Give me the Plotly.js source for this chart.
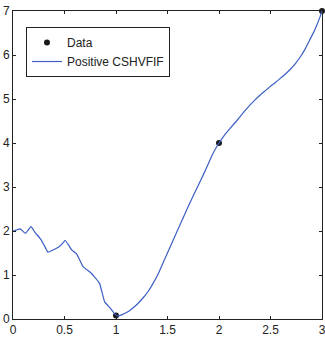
<!DOCTYPE html>
<html>
<head>
<meta charset="utf-8">
<script src="https://cdn.plot.ly/plotly-3.0.1.min.js"></script>
<style>html,body{margin:0;padding:0;background:#fff;}#chart{width:325px;height:337px;}</style>
</head>
<body>
<div id="chart"></div>
<script>
const dataX = [1, 2, 3];
const dataY = [0.08, 4, 7];
const curveX = [0, 0.03, 0.07, 0.12, 0.175, 0.21, 0.27, 0.31, 0.34, 0.39, 0.44, 0.49, 0.505, 0.55, 0.57, 0.62, 0.68, 0.76, 0.84, 0.89, 0.94, 0.99,
  1.02, 1.06, 1.12, 1.17, 1.22, 1.27, 1.31, 1.36, 1.41, 1.45, 1.49, 1.53, 1.57, 1.61, 1.65, 1.7, 1.75, 1.82, 1.87, 1.91, 1.95, 2.0,
  2.05, 2.11, 2.17, 2.24, 2.3, 2.35, 2.4, 2.45, 2.5, 2.55, 2.6, 2.65, 2.69, 2.74, 2.79, 2.84, 2.88, 2.92, 2.95, 2.98, 3.0];
const curveY = [2.0, 2.02, 2.05, 1.95, 2.1, 1.98, 1.81, 1.64, 1.52, 1.57, 1.63, 1.74, 1.79, 1.64, 1.57, 1.47, 1.19, 1.04, 0.81, 0.39, 0.26, 0.11,
  0.07, 0.1, 0.17, 0.26, 0.37, 0.5, 0.62, 0.81, 1.03, 1.24, 1.45, 1.66, 1.87, 2.08, 2.29, 2.55, 2.8, 3.14, 3.39, 3.6, 3.8, 4.0,
  4.17, 4.34, 4.5, 4.7, 4.86, 4.98, 5.09, 5.19, 5.29, 5.38, 5.48, 5.58, 5.67, 5.8, 5.96, 6.15, 6.34, 6.52, 6.68, 6.86, 7.0];
const seriesNames = ['Data', 'Positive CSHVFIF'];

const font = {family: 'Liberation Sans, Arial, sans-serif', size: 12, color: '#222'};

const traces = [
  {x: dataX, y: dataY, name: seriesNames[0], mode: 'markers', type: 'scatter',
   marker: {color: '#1a1a1a', size: 6}, cliponaxis: false},
  {x: curveX, y: curveY, name: seriesNames[1], mode: 'lines', type: 'scatter',
   line: {color: '#3c5fc4', width: 1.2, shape: 'spline', smoothing: 0.4}, cliponaxis: false}
];

const axisCommon = {
  showgrid: false, zeroline: false, showline: true, linecolor: '#222', linewidth: 1,
  mirror: 'ticks', ticks: 'inside', ticklen: 3, tickcolor: '#222', tickfont: font,
  ticklabeloverflow: 'allow'
};

const layout = {
  width: 325, height: 337,
  margin: {l: 13, r: 3, t: 11, b: 18, pad: 0},
  paper_bgcolor: '#fff', plot_bgcolor: '#fff',
  font: font,
  showlegend: true,
  legend: {x: 0.042, y: 0.948, xanchor: 'left', yanchor: 'top',
           bordercolor: '#222', borderwidth: 1, bgcolor: '#fff', font: font,
           tracegroupgap: 0},
  xaxis: Object.assign({}, axisCommon, {range: [0, 3], dtick: 0.5, tick0: 0}),
  yaxis: Object.assign({}, axisCommon, {range: [0, 7], dtick: 1, tick0: 0})
};

Plotly.newPlot('chart', traces, layout, {displayModeBar: false, staticPlot: true});
</script>
</body>
</html>
